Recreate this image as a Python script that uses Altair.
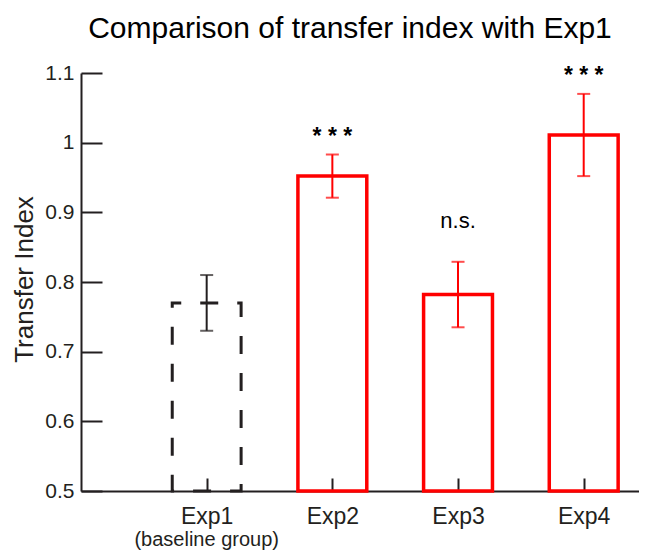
import altair as alt
import pandas as pd

groups = ["Exp1", "Exp2", "Exp3", "Exp4"]
positions = [1, 2, 3, 4]
means = [0.770, 0.952, 0.782, 1.011]
errors = [0.040, 0.031, 0.047, 0.059]
significance = ["", "* * *", "n.s.", "* * *"]
sublabels = ["(baseline group)", "", "", ""]
kinds = ["baseline", "test", "test", "test"]
y_ticks = [0.5, 0.6, 0.7, 0.8, 0.9, 1.0, 1.1]

df = pd.DataFrame({
    "group": groups,
    "pos": positions,
    "mean": means,
    "err": errors,
    "sig": significance,
    "sub": sublabels,
    "kind": kinds,
})

FONT = "Liberation Sans"
DARK = "#231f20"
RED = "#ff0000"
HALF = 0.274

xs = alt.Scale(domain=[0, 4.44], nice=False, zero=False)
ys = alt.Scale(domain=[0.5, 1.1], nice=False, zero=False)

base = alt.Chart(df).transform_calculate(
    x1=f"datum.pos - {HALF}",
    x2=f"datum.pos + {HALF}",
    lo="datum.mean - datum.err",
    hi="datum.mean + datum.err",
    base="0.5",
)

main_x_axis = alt.Axis(
    values=positions, labelExpr="'Exp' + datum.value", ticks=False, tickSize=0,
    domain=True, domainColor=DARK, domainWidth=2, labelFont=FONT, labelFontSize=23,
    labelColor=DARK, labelPadding=14, grid=False, title=None,
)
main_y_axis = alt.Axis(
    values=y_ticks, format="~g", ticks=False, tickSize=0, domain=True,
    domainColor=DARK, domainWidth=2, labelFont=FONT, labelFontSize=21,
    labelColor=DARK, labelPadding=7, grid=False, title="Transfer Index",
    titleFont=FONT, titleFontSize=26, titleFontWeight="normal", titleColor=DARK,
    titleAngle=-90, titleX=-49, titleY=206, titleAlign="center",
    titleBaseline="alphabetic",
)

tick_x_axis = alt.Axis(
    values=positions, orient="bottom", offset=-13, tickSize=13, tickWidth=2,
    tickColor=DARK, domain=False, labels=False, grid=False, title=None,
)
tick_y_axis = alt.Axis(
    values=y_ticks, orient="left", offset=-21, tickSize=21, tickWidth=2,
    tickColor=DARK, domain=False, labels=False, grid=False, title=None,
)

bars_test = base.transform_filter("datum.kind == 'test'").mark_rect(
    fill="transparent", stroke=RED, strokeWidth=3.5, strokeJoin="miter"
).encode(
    x=alt.X("x1:Q", scale=xs, axis=main_x_axis),
    x2="x2:Q",
    y=alt.Y("base:Q", scale=ys, axis=main_y_axis),
    y2="mean:Q",
)

bars_base = base.transform_filter("datum.kind == 'baseline'").mark_rect(
    fill="transparent", stroke=DARK, strokeWidth=3, strokeDash=[18, 19],
    strokeDashOffset=9, strokeJoin="miter"
).encode(
    x=alt.X("x1:Q", scale=xs, axis=None),
    x2="x2:Q",
    y=alt.Y("base:Q", scale=ys, axis=None),
    y2="mean:Q",
)

err_color = alt.Color("kind:N", scale=alt.Scale(domain=["baseline", "test"], range=[DARK, RED]), legend=None)

err_rule = base.mark_rule(strokeWidth=2).encode(
    x=alt.X("pos:Q", scale=xs, axis=tick_x_axis),
    y=alt.Y("lo:Q", scale=ys, axis=tick_y_axis),
    y2="hi:Q",
    color=err_color,
)

cap_hi = base.mark_tick(orient="horizontal", size=13, thickness=2).encode(
    x=alt.X("pos:Q", scale=xs, axis=None),
    y=alt.Y("hi:Q", scale=ys, axis=None),
    color=err_color,
)
cap_lo = base.mark_tick(orient="horizontal", size=13, thickness=2).encode(
    x=alt.X("pos:Q", scale=xs, axis=None),
    y=alt.Y("lo:Q", scale=ys, axis=None),
    color=err_color,
)

stars = base.transform_filter("datum.sig == '* * *'").mark_text(
    font=FONT, fontSize=23, fontWeight="bold", color="#000000",
    baseline="alphabetic", dy=-11
).encode(
    x=alt.X("pos:Q", scale=xs, axis=None),
    y=alt.Y("hi:Q", scale=ys, axis=None),
    text="sig:N",
)

ns = base.transform_filter("datum.sig == 'n.s.'").mark_text(
    font=FONT, fontSize=22, color="#000000", baseline="alphabetic", dy=-34
).encode(
    x=alt.X("pos:Q", scale=xs, axis=None),
    y=alt.Y("hi:Q", scale=ys, axis=None),
    text="sig:N",
)

sub = base.transform_filter("datum.sub != ''").mark_text(
    font=FONT, fontSize=20, color=DARK, baseline="alphabetic", dy=55
).encode(
    x=alt.X("pos:Q", scale=xs, axis=None),
    y=alt.Y("base:Q", scale=ys, axis=None),
    text="sub:N",
)

chart = alt.layer(
    bars_test, bars_base, err_rule, cap_hi, cap_lo, stars, ns, sub
).resolve_axis(x="independent", y="independent").properties(
    width=558,
    height=418,
    title=alt.TitleParams(
        "Comparison of transfer index with Exp1", font=FONT, fontSize=30,
        fontWeight="normal", color="#000000", anchor="middle", baseline="alphabetic",
        offset=0, dy=6, dx=-10,
    ),
    autosize=alt.AutoSizeParams(type="none"),
    padding={"left": 73, "top": 65, "right": 0, "bottom": 62},
).configure_view(stroke=None)

chart.save("out.html", embed_options={"renderer": "svg", "actions": False})
